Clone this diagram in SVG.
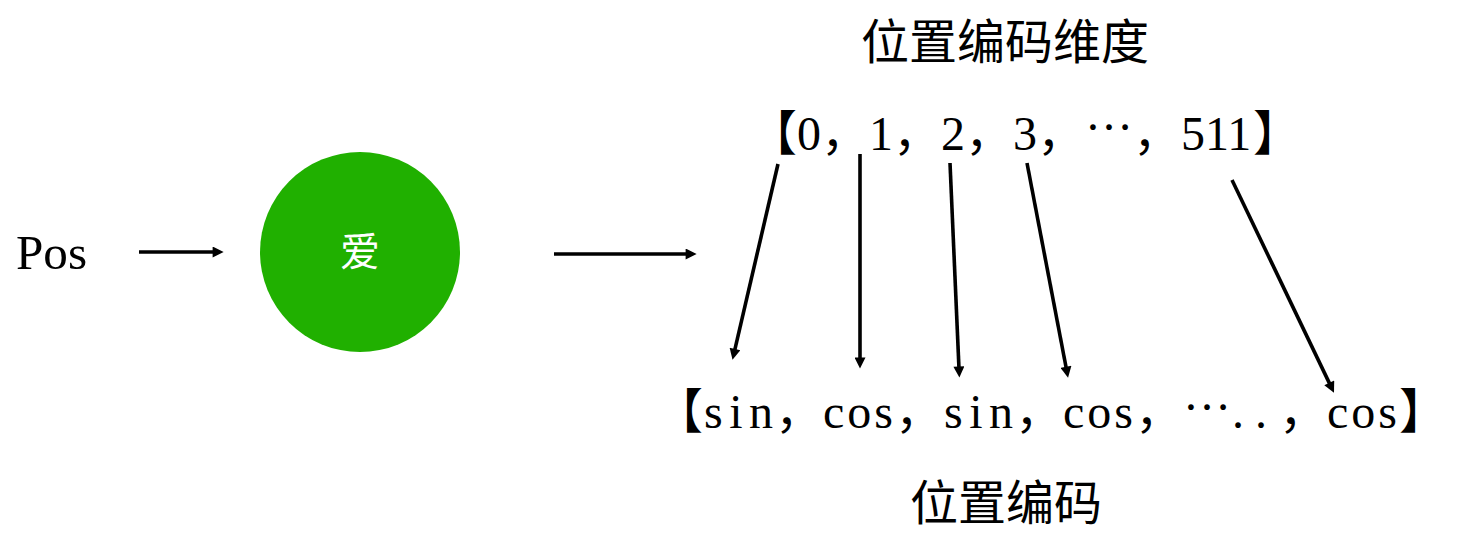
<svg xmlns="http://www.w3.org/2000/svg" width="1472" height="544" viewBox="0 0 1472 544">
<style>
.bg{fill:#ffffff}
.cjk{font-family:"Noto Sans CJK SC","Noto Sans",sans-serif;font-size:48px;fill:#000}
.ser{font-family:"Liberation Serif","Times New Roman",serif;font-size:48px;fill:#000}
.arrow{stroke:#000;stroke-width:3.6;fill:none;marker-end:url(#ah)}
.node{fill:#20B000}
.white{fill:#fff;font-size:40px}
</style>
<defs>
<marker id="ah" viewBox="0 0 10 10" refX="2" refY="5" markerWidth="13" markerHeight="11" markerUnits="userSpaceOnUse" orient="auto">
<path d="M0,0 L10,5 L0,10 z" fill="#000"/>
</marker>
</defs>
<rect class="bg" x="0" y="0" width="1472" height="544"/>
<g id="node-pos">
<text class="ser" x="16" y="269" textLength="71" lengthAdjust="spacingAndGlyphs">Pos</text>
</g>
<g id="node-circle">
<circle class="node" cx="360" cy="252" r="100"/>
<text class="cjk white" x="360" y="266" text-anchor="middle">爱</text>
</g>
<g id="node-title-top">
<text class="cjk" x="1005" y="59" text-anchor="middle">位置编码维度</text>
</g>
<g id="node-dims">
<text y="150">
<tspan class="cjk" x="749">【</tspan><tspan class="ser" x="797">0</tspan><tspan class="cjk" x="821">，</tspan><tspan class="ser" x="869">1</tspan><tspan class="cjk" x="893">，</tspan><tspan class="ser" x="941">2</tspan><tspan class="cjk" x="965">，</tspan><tspan class="ser" x="1013">3</tspan><tspan class="cjk" x="1037">，</tspan><tspan class="ser" x="1085" y="130">…</tspan><tspan class="cjk" x="1133" y="150">，</tspan><tspan class="ser" x="1181">511</tspan><tspan class="cjk" x="1253">】</tspan>
</text>
</g>
<g id="node-encoding">
<text y="428">
<tspan class="cjk" x="655">【</tspan><tspan class="ser" x="704" textLength="69" lengthAdjust="spacing">sin</tspan><tspan class="cjk" x="775">，</tspan><tspan class="ser" x="823" textLength="70" lengthAdjust="spacing">cos</tspan><tspan class="cjk" x="895">，</tspan><tspan class="ser" x="944" textLength="69" lengthAdjust="spacing">sin</tspan><tspan class="cjk" x="1015">，</tspan><tspan class="ser" x="1063" textLength="70" lengthAdjust="spacing">cos</tspan><tspan class="cjk" x="1135">，</tspan><tspan class="ser" x="1183" y="410">…</tspan><tspan class="ser" x="1232 1255" y="428">..</tspan><tspan class="cjk" x="1279">，</tspan><tspan class="ser" x="1327" textLength="70" lengthAdjust="spacing">cos</tspan><tspan class="cjk" x="1399">】</tspan>
</text>
</g>
<g id="node-title-bottom">
<text class="cjk" x="1006" y="520" text-anchor="middle">位置编码</text>
</g>
<g id="connectors">
<line class="arrow" x1="139" y1="252" x2="214.8" y2="252"/>
<line class="arrow" x1="554" y1="254" x2="687.8" y2="254"/>
<line class="arrow" x1="778" y1="164" x2="734.5" y2="351.1"/>
<line class="arrow" x1="860" y1="154" x2="860" y2="359.8"/>
<line class="arrow" x1="950" y1="163" x2="959.0" y2="368.8"/>
<line class="arrow" x1="1027" y1="163" x2="1066.4" y2="369.0"/>
<line class="arrow" x1="1232" y1="180" x2="1330.2" y2="384.9"/>
</g>
</svg>
